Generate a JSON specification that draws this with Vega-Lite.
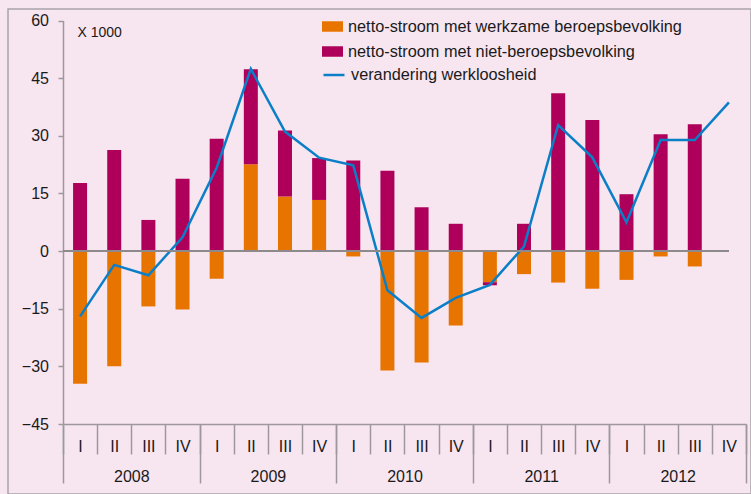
{
  "$schema": "https://vega.github.io/schema/vega-lite/v6.json",
  "width": 743,
  "height": 485,
  "autosize": {"type": "none"},
  "padding": {"left": 8, "top": 9, "right": 0, "bottom": 0},
  "background": "#f7e5f0",
  "config": {
    "view": {"stroke": "#aaa3a8", "strokeWidth": 1.5, "fill": "#f7e5f0"},
    "font": "Liberation Sans",
    "axis": {"labelFont": "Liberation Sans", "labelFontSize": 16, "labelColor": "#1a1a1a", "domainColor": "#9e989d", "tickColor": "#9e989d", "grid": false},
    "legend": {"labelFont": "Liberation Sans", "labelFontSize": 16.3, "labelColor": "#1a1a1a", "padding": 0, "labelLimit": 500}
  },
  "datasets": {
    "bars": [
      {"q": "2008-I", "s": "netto-stroom met werkzame beroepsbevolking", "k": 1, "v": -34.5},
      {"q": "2008-I", "s": "netto-stroom met niet-beroepsbevolking", "k": 2, "v": 17.7},
      {"q": "2008-II", "s": "netto-stroom met werkzame beroepsbevolking", "k": 1, "v": -30.0},
      {"q": "2008-II", "s": "netto-stroom met niet-beroepsbevolking", "k": 2, "v": 26.3},
      {"q": "2008-III", "s": "netto-stroom met werkzame beroepsbevolking", "k": 1, "v": -14.4},
      {"q": "2008-III", "s": "netto-stroom met niet-beroepsbevolking", "k": 2, "v": 8.1},
      {"q": "2008-IV", "s": "netto-stroom met werkzame beroepsbevolking", "k": 1, "v": -15.2},
      {"q": "2008-IV", "s": "netto-stroom met niet-beroepsbevolking", "k": 2, "v": 18.8},
      {"q": "2009-I", "s": "netto-stroom met werkzame beroepsbevolking", "k": 1, "v": -7.2},
      {"q": "2009-I", "s": "netto-stroom met niet-beroepsbevolking", "k": 2, "v": 29.2},
      {"q": "2009-II", "s": "netto-stroom met werkzame beroepsbevolking", "k": 1, "v": 22.6},
      {"q": "2009-II", "s": "netto-stroom met niet-beroepsbevolking", "k": 2, "v": 24.7},
      {"q": "2009-III", "s": "netto-stroom met werkzame beroepsbevolking", "k": 1, "v": 14.2},
      {"q": "2009-III", "s": "netto-stroom met niet-beroepsbevolking", "k": 2, "v": 17.2},
      {"q": "2009-IV", "s": "netto-stroom met werkzame beroepsbevolking", "k": 1, "v": 13.3},
      {"q": "2009-IV", "s": "netto-stroom met niet-beroepsbevolking", "k": 2, "v": 10.9},
      {"q": "2010-I", "s": "netto-stroom met werkzame beroepsbevolking", "k": 1, "v": -1.4},
      {"q": "2010-I", "s": "netto-stroom met niet-beroepsbevolking", "k": 2, "v": 23.6},
      {"q": "2010-II", "s": "netto-stroom met werkzame beroepsbevolking", "k": 1, "v": -31.1},
      {"q": "2010-II", "s": "netto-stroom met niet-beroepsbevolking", "k": 2, "v": 20.9},
      {"q": "2010-III", "s": "netto-stroom met werkzame beroepsbevolking", "k": 1, "v": -29.0},
      {"q": "2010-III", "s": "netto-stroom met niet-beroepsbevolking", "k": 2, "v": 11.4},
      {"q": "2010-IV", "s": "netto-stroom met werkzame beroepsbevolking", "k": 1, "v": -19.4},
      {"q": "2010-IV", "s": "netto-stroom met niet-beroepsbevolking", "k": 2, "v": 7.1},
      {"q": "2011-I", "s": "netto-stroom met werkzame beroepsbevolking", "k": 1, "v": -8.1},
      {"q": "2011-I", "s": "netto-stroom met niet-beroepsbevolking", "k": 2, "v": -0.8},
      {"q": "2011-II", "s": "netto-stroom met werkzame beroepsbevolking", "k": 1, "v": -6.0},
      {"q": "2011-II", "s": "netto-stroom met niet-beroepsbevolking", "k": 2, "v": 7.1},
      {"q": "2011-III", "s": "netto-stroom met werkzame beroepsbevolking", "k": 1, "v": -8.2},
      {"q": "2011-III", "s": "netto-stroom met niet-beroepsbevolking", "k": 2, "v": 41.1},
      {"q": "2011-IV", "s": "netto-stroom met werkzame beroepsbevolking", "k": 1, "v": -9.8},
      {"q": "2011-IV", "s": "netto-stroom met niet-beroepsbevolking", "k": 2, "v": 34.1},
      {"q": "2012-I", "s": "netto-stroom met werkzame beroepsbevolking", "k": 1, "v": -7.5},
      {"q": "2012-I", "s": "netto-stroom met niet-beroepsbevolking", "k": 2, "v": 14.8},
      {"q": "2012-II", "s": "netto-stroom met werkzame beroepsbevolking", "k": 1, "v": -1.4},
      {"q": "2012-II", "s": "netto-stroom met niet-beroepsbevolking", "k": 2, "v": 30.4},
      {"q": "2012-III", "s": "netto-stroom met werkzame beroepsbevolking", "k": 1, "v": -4.0},
      {"q": "2012-III", "s": "netto-stroom met niet-beroepsbevolking", "k": 2, "v": 33.0}
    ],
    "line": [
      {"q": "2008-I", "s": "verandering werkloosheid", "v": -17.0},
      {"q": "2008-II", "s": "verandering werkloosheid", "v": -3.6},
      {"q": "2008-III", "s": "verandering werkloosheid", "v": -6.3},
      {"q": "2008-IV", "s": "verandering werkloosheid", "v": 3.6},
      {"q": "2009-I", "s": "verandering werkloosheid", "v": 21.7},
      {"q": "2009-II", "s": "verandering werkloosheid", "v": 47.4},
      {"q": "2009-III", "s": "verandering werkloosheid", "v": 31.1},
      {"q": "2009-IV", "s": "verandering werkloosheid", "v": 24.3},
      {"q": "2010-I", "s": "verandering werkloosheid", "v": 22.3},
      {"q": "2010-II", "s": "verandering werkloosheid", "v": -10.2},
      {"q": "2010-III", "s": "verandering werkloosheid", "v": -17.4},
      {"q": "2010-IV", "s": "verandering werkloosheid", "v": -12.2},
      {"q": "2011-I", "s": "verandering werkloosheid", "v": -8.8},
      {"q": "2011-II", "s": "verandering werkloosheid", "v": 1.2},
      {"q": "2011-III", "s": "verandering werkloosheid", "v": 32.8},
      {"q": "2011-IV", "s": "verandering werkloosheid", "v": 24.4},
      {"q": "2012-I", "s": "verandering werkloosheid", "v": 7.5},
      {"q": "2012-II", "s": "verandering werkloosheid", "v": 28.9},
      {"q": "2012-III", "s": "verandering werkloosheid", "v": 28.9},
      {"q": "2012-IV", "s": "verandering werkloosheid", "v": 38.7}
    ],
    "years": [
      {"year": "2008"}, {"year": "2009"}, {"year": "2010"}, {"year": "2011"}, {"year": "2012"}
    ]
  },
  "layer": [
    {
      "layer": [
        {
          "data": {"name": "bars"},
          "mark": {"type": "bar", "width": {"band": 0.41}},
          "encoding": {
            "x": {
              "field": "q", "type": "nominal",
              "scale": {"domain": ["2008-I","2008-II","2008-III","2008-IV","2009-I","2009-II","2009-III","2009-IV","2010-I","2010-II","2010-III","2010-IV","2011-I","2011-II","2011-III","2011-IV","2012-I","2012-II","2012-III","2012-IV"], "range": [55, 738], "paddingInner": 0, "paddingOuter": 0},
              "axis": {"orient": "bottom", "offset": -70, "title": null, "labelExpr": "split(datum.value, '-')[1]", "labelAngle": 0, "tickBand": "extent", "tickSize": 30, "labelPadding": -15.6, "domainWidth": 1.5, "tickWidth": 1.5}
            },
            "y": {
              "field": "v", "type": "quantitative",
              "scale": {"domain": [-45, 60], "range": [415, 11.5], "nice": false, "zero": false},
              "axis": {"orient": "left", "offset": -55, "values": [-45, -30, -15, 0, 15, 30, 45, 60], "tickSize": 5, "labelPadding": 9.5, "domainWidth": 1.5, "tickWidth": 1.5, "title": "X 1000", "titleAngle": 0, "titleFontSize": 14, "titleFontWeight": "normal", "titleColor": "#1a1a1a", "titleAlign": "left", "titleBaseline": "alphabetic", "titleX": 14, "titleY": 27}
            },
            "color": {
              "field": "s", "type": "nominal",
              "scale": {"domain": ["netto-stroom met werkzame beroepsbevolking", "netto-stroom met niet-beroepsbevolking"], "range": ["#e87400", "#ae005a"]},
              "legend": {"orient": "none", "legendX": 314, "legendY": 7, "title": null, "symbolType": "M-1,-0.5H1V0.5H-1Z", "symbolSize": 441, "symbolStrokeWidth": 0, "symbolOpacity": 1, "labelOffset": 5, "rowPadding": 6}
            },
            "order": {"field": "k", "type": "quantitative"}
          }
        },
        {
          "data": {"name": "line"},
          "mark": {"type": "line", "strokeWidth": 2.5},
          "encoding": {
            "x": {"field": "q", "type": "nominal"},
            "y": {"field": "v", "type": "quantitative"},
            "stroke": {
              "field": "s", "type": "nominal",
              "scale": {"domain": ["verandering werkloosheid"], "range": ["#0a7fc8"]},
              "legend": {"orient": "none", "legendX": 314, "legendY": 54, "title": null, "symbolType": "stroke", "symbolSize": 441, "symbolStrokeWidth": 2.5, "labelOffset": 5}
            }
          }
        },
        {
          "data": {"name": "line"},
          "mark": {"type": "rule", "color": "#8e8a8d", "strokeWidth": 1.5},
          "encoding": {
            "x": {"datum": "2008-I", "type": "nominal", "bandPosition": 0},
            "x2": {"datum": "2012-IV", "bandPosition": 0.5},
            "y": {"datum": 0}
          }
        }
      ]
    },
    {
      "data": {"name": "years"},
      "mark": {"type": "point", "opacity": 0},
      "encoding": {
        "x": {
          "field": "year", "type": "nominal",
          "scale": {"domain": ["2008", "2009", "2010", "2011", "2012"], "range": [55, 738], "paddingInner": 0, "paddingOuter": 0},
          "axis": {"orient": "bottom", "offset": -70, "title": null, "labelAngle": 0, "tickBand": "extent", "tickSize": 59, "labelPadding": -14.6, "domain": false, "tickWidth": 1.5}
        }
      }
    }
  ],
  "resolve": {"scale": {"x": "independent"}, "axis": {"x": "independent"}}
}
